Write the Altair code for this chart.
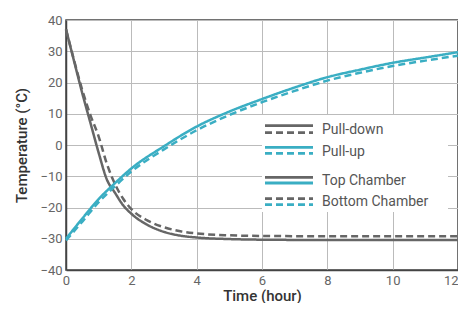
import altair as alt
import pandas as pd

# Time points (hours)
t_down = [0, 0.25, 0.5, 0.75, 1.0, 1.25, 1.5, 1.75, 2.0, 2.5, 3.0, 3.5, 4.0, 5.0, 6.0, 8.0, 10.0, 12.0]
down_top = [37, 26.7, 16.5, 7.0, -2.5, -11.0, -15.3, -19.3, -22.0, -25.6, -27.8, -29.0, -29.6, -30.1, -30.3, -30.4, -30.4, -30.4]
down_bottom = [37, 27.0, 17.5, 9.5, 2.7, -6.0, -12.5, -17.2, -20.5, -24.2, -26.3, -27.6, -28.3, -28.9, -29.1, -29.2, -29.2, -29.2]

t_up = [0, 0.5, 1, 1.5, 2, 3, 4, 5, 6, 7, 8, 9, 10, 11, 12]
up_top = [-30, -23.5, -17.3, -12.2, -7.5, -0.4, 5.9, 10.7, 14.7, 18.4, 21.7, 24.1, 26.3, 28.0, 29.7]
up_bottom = [-30.5, -24.5, -18.3, -13.2, -8.5, -1.4, 4.7, 9.6, 13.7, 17.3, 20.6, 23.1, 25.3, 27.0, 28.6]

x_ticks = [0, 2, 4, 6, 8, 10, 12]
y_ticks = [-40, -30, -20, -10, 0, 10, 20, 30, 40]

GRAY = "#666666"
TEAL = "#3aaec3"

rows = []
for t, v in zip(t_down, down_top):
    rows.append({"t": t, "T": v, "mode": "Pull-down", "chamber": "Top Chamber", "s": "down-top"})
for t, v in zip(t_down, down_bottom):
    rows.append({"t": t, "T": v, "mode": "Pull-down", "chamber": "Bottom Chamber", "s": "down-bottom"})
for t, v in zip(t_up, up_top):
    rows.append({"t": t, "T": v, "mode": "Pull-up", "chamber": "Top Chamber", "s": "up-top"})
for t, v in zip(t_up, up_bottom):
    rows.append({"t": t, "T": v, "mode": "Pull-up", "chamber": "Bottom Chamber", "s": "up-bottom"})
df = pd.DataFrame(rows)

FONT = "Roboto"

lines = alt.Chart(df).mark_line(strokeWidth=2.5, interpolate="monotone").encode(
    x=alt.X("t:Q", scale=alt.Scale(domain=[0, 12], nice=False),
            axis=alt.Axis(values=x_ticks, title="Time (hour)", format="d",
                          labelAlign={"condition": {"test": "datum.value == 12", "value": "right"},
                                      "value": "center"})),
    y=alt.Y("T:Q", scale=alt.Scale(domain=[-40, 40], nice=False),
            axis=alt.Axis(values=y_ticks, title="Temperature (°C)", format="d")),
    color=alt.Color("mode:N", scale=alt.Scale(domain=["Pull-down", "Pull-up"], range=[GRAY, TEAL]), legend=None),
    strokeDash=alt.StrokeDash("chamber:N", scale=alt.Scale(domain=["Top Chamber", "Bottom Chamber"],
                                                          range=[[1, 0], [7, 4]]), legend=None),
    detail="s:N",
)

# Custom legend (pixel layout)
bg = alt.Chart(pd.DataFrame({"a": [0]})).mark_rect(color="white").encode(
    x=alt.value(196), x2=alt.value(382), y=alt.value(95), y2=alt.value(192)
)

leg_lines = pd.DataFrame({
    "y": [105.7, 112.7, 127.3, 133.3, 157.3, 163.0, 178.7, 184.7],
    "c": [GRAY, GRAY, TEAL, TEAL, GRAY, TEAL, GRAY, TEAL],
    "d": ["solid", "dash", "solid", "dash", "solid", "solid", "dash", "dash"],
})
leg_solid = alt.Chart(leg_lines[leg_lines.d == "solid"]).mark_rule(strokeWidth=2.8).encode(
    x=alt.value(199), x2=alt.value(247), y=alt.Y("y:Q", scale=None),
    color=alt.Color("c:N", scale=None),
)
leg_dash = alt.Chart(leg_lines[leg_lines.d == "dash"]).mark_rule(strokeWidth=2.8, strokeDash=[7, 4]).encode(
    x=alt.value(199), x2=alt.value(247), y=alt.Y("y:Q", scale=None),
    color=alt.Color("c:N", scale=None),
)
leg_text_df = pd.DataFrame({
    "label": ["Pull-down", "Pull-up", "Top Chamber", "Bottom Chamber"],
    "y": [110, 131.7, 160.7, 181.7],
})
leg_text = alt.Chart(leg_text_df).mark_text(align="left", baseline="middle", fontSize=14,
                                           color="#555555", font=FONT).encode(
    x=alt.value(256), y=alt.Y("y:Q", scale=None), text="label:N"
)

chart = alt.layer(lines, bg, leg_solid, leg_dash, leg_text).properties(
    width=392, height=250,
    autosize=alt.AutoSizeParams(type="none"),
    padding={"left": 58, "top": 12, "right": 0, "bottom": 33},
).configure_view(
    stroke="#444444", strokeWidth=1.5
).configure_axis(
    gridColor="#bbbbbb", gridWidth=1, domainColor="#444444", domainWidth=1.5,
    ticks=False, labelColor="#666666", labelFontSize=13, labelFont=FONT,
    titleColor="#333333", titleFontSize=15, titleFont=FONT, titleFontWeight=500,
).configure_axisY(
    labelPadding=4, titlePadding=10,
).configure_axisX(
    labelPadding=4, titlePadding=1,
)

chart.save("out.html", embed_options={"renderer": "svg", "actions": False})
